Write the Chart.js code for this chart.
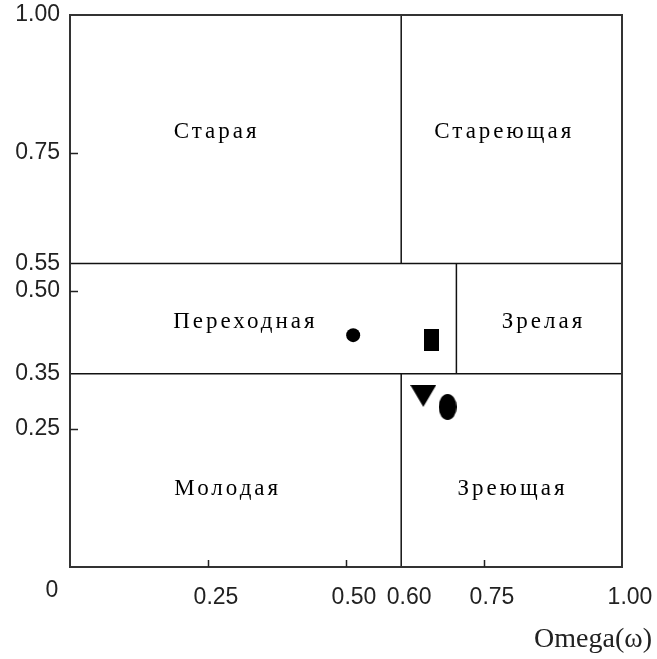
<!DOCTYPE html>
<html>
<head>
<meta charset="utf-8">
<script src="https://cdn.jsdelivr.net/npm/chart.js@4"></script>
<style>
html,body{margin:0;padding:0;background:#fff;}
canvas{display:block;}
</style>
</head>
<body>
<canvas id="c" width="657" height="659"></canvas>
<script>
// ---- data ----
const xTicks = [0.25, 0.50, 0.60, 0.75, 1.00];
const yTicks = [0.25, 0.35, 0.50, 0.55, 0.75, 1.00];
const minorXTicks = [0.25, 0.50, 0.75];
const minorYTicks = [0.25, 0.50, 0.75];

const splitY = [0.35, 0.55];
const vSplitX = [0.60, 0.70, 0.60];
const vSplitFrom = [0.55, 0.35, 0.00];
const vSplitTo = [1.00, 0.55, 0.35];

const regionNames = ['Старая', 'Стареющая', 'Переходная', 'Зрелая', 'Молодая', 'Зреющая'];
const regionLabelX = [0.263, 0.784, 0.315, 0.855, 0.283, 0.799];
const regionLabelY = [0.788, 0.788, 0.444, 0.444, 0.141, 0.141];

const pointX = [0.513, 0.654, 0.640, 0.684];
const pointY = [0.420, 0.411, 0.310, 0.290];

const xTitle = 'Omega(ω)';
const cornerLabel = '0';

// ---- marker images ----
function mk(w, h, draw) {
  const c = document.createElement('canvas');
  c.width = w; c.height = h;
  const g = c.getContext('2d');
  g.fillStyle = '#000';
  draw(g, w, h);
  return c;
}
const rectImg = mk(15, 22, (g, w, h) => g.fillRect(0, 0, w, h));
const triImg = mk(26, 22, (g, w, h) => { g.beginPath(); g.moveTo(0, 0); g.lineTo(w, 0); g.lineTo(w / 2, h); g.closePath(); g.fill(); });
const ellImg = mk(18, 26, (g, w, h) => { g.beginPath(); g.ellipse(w / 2, h / 2, w / 2, h / 2, 0, 0, Math.PI * 2); g.fill(); });
const markerStyles = ['circle', rectImg, triImg, ellImg];

// ---- datasets ----
const datasets = [];
splitY.forEach(v => datasets.push({
  type: 'line', data: [{x: 0, y: v}, {x: 1, y: v}],
  borderColor: '#111', borderWidth: 1.5, pointRadius: 0, showLine: true, fill: false
}));
vSplitX.forEach((v, i) => datasets.push({
  type: 'line', data: [{x: v, y: vSplitFrom[i]}, {x: v, y: vSplitTo[i]}],
  borderColor: '#111', borderWidth: 1.5, pointRadius: 0, showLine: true, fill: false
}));
datasets.push({
  type: 'scatter',
  data: pointX.map((x, i) => ({x, y: pointY[i]})),
  pointStyle: markerStyles,
  pointRadius: 7,
  backgroundColor: '#000', borderColor: '#000', borderWidth: 0
});

const tickFont = {family: 'Liberation Sans', size: 23};

const decor = {
  id: 'decor',
  afterDatasetsDraw(chart) {
    const {ctx, chartArea: a, scales: {x, y}} = chart;
    ctx.save();
    // frame
    ctx.strokeStyle = '#333';
    ctx.lineWidth = 2;
    ctx.strokeRect(a.left, a.top, a.right - a.left, a.bottom - a.top);
    // inner ticks
    ctx.lineWidth = 1.5;
    ctx.strokeStyle = '#222';
    ctx.beginPath();
    minorYTicks.forEach(v => { const p = Math.round(y.getPixelForValue(v)) + 0.5; ctx.moveTo(a.left, p); ctx.lineTo(a.left + 8, p); });
    minorXTicks.forEach(v => { const p = Math.round(x.getPixelForValue(v)) + 0.5; ctx.moveTo(p, a.bottom); ctx.lineTo(p, a.bottom - 7); });
    ctx.stroke();
    // region labels
    ctx.fillStyle = '#000';
    ctx.font = '23px "Liberation Serif"';
    ctx.letterSpacing = '3px';
    ctx.textAlign = 'center';
    ctx.textBaseline = 'middle';
    regionNames.forEach((n, i) => ctx.fillText(n, x.getPixelForValue(regionLabelX[i]) + 1.5, y.getPixelForValue(regionLabelY[i])));
    ctx.letterSpacing = '0px';
    // corner "0"
    ctx.font = '23px "Liberation Sans"';
    ctx.fillStyle = '#222';
    ctx.fillText(cornerLabel, a.left - 18, a.bottom + 24);
    // axis title
    ctx.font = '28px "Liberation Serif"';
    ctx.textAlign = 'right';
    ctx.fillText(xTitle, chart.width - 5, a.bottom + 73);
    ctx.restore();
  }
};

new Chart(document.getElementById('c'), {
  type: 'scatter',
  data: {datasets},
  options: {
    responsive: false,
    animation: false,
    events: [],
    layout: {padding: {left: 0, right: 35, top: 15, bottom: 0}},
    plugins: {legend: {display: false}, tooltip: {enabled: false}},
    scales: {
      x: {
        type: 'linear', min: 0, max: 1,
        afterBuildTicks: s => { s.ticks = xTicks.map(v => ({value: v})); },
        afterFit: s => { s.height = 92; s.paddingLeft = 0; s.paddingRight = 0; },
        grid: {display: false, drawTicks: false},
        border: {display: false},
        ticks: {font: tickFont, color: '#222', padding: 17, labelOffset: 8, maxRotation: 0, autoSkip: false,
          callback: v => Number(v).toFixed(2)}
      },
      y: {
        type: 'linear', min: 0, max: 1,
        afterBuildTicks: s => { s.ticks = yTicks.map(v => ({value: v})); },
        afterFit: s => { s.width = 70; s.paddingTop = 0; s.paddingBottom = 0; },
        grid: {display: false, drawTicks: false},
        border: {display: false},
        ticks: {font: tickFont, color: '#222', padding: 10, autoSkip: false,
          callback: v => Number(v).toFixed(2)}
      }
    }
  },
  plugins: [decor]
});
</script>
</body>
</html>
